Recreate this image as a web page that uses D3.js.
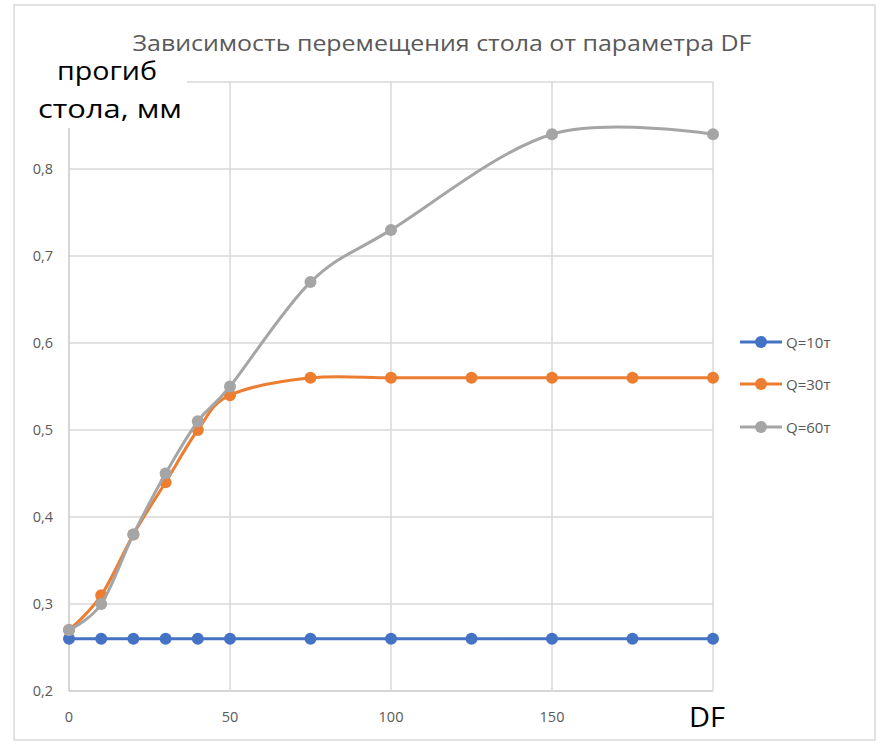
<!DOCTYPE html>
<html><head><meta charset="utf-8">
<script src="https://cdn.jsdelivr.net/npm/d3@7"></script>
<style>body{margin:0;background:#fff;} svg{display:block;}</style>
</head><body>
<svg id="c" width="882" height="750"></svg>
<script>
const dfQ10 = [0,10,20,30,40,50,75,100,125,150,175,200];
const valQ10 = [0.26,0.26,0.26,0.26,0.26,0.26,0.26,0.26,0.26,0.26,0.26,0.26];
const dfQ30 = [0,10,20,30,40,50,75,100,125,150,175,200];
const valQ30 = [0.27,0.31,0.38,0.44,0.50,0.54,0.56,0.56,0.56,0.56,0.56,0.56];
const dfQ60 = [0,10,20,30,40,50,75,100,150,200];
const valQ60 = [0.27,0.30,0.38,0.45,0.51,0.55,0.67,0.73,0.84,0.84];
const seriesNames = ["Q=10т","Q=30т","Q=60т"];
const seriesColors = ["#4472C4","#ED7D31","#A5A5A5"];
const xTicks = [0,50,100,150];
const xGrid = [0,50,100,150,200];
const yTicks = [0.2,0.3,0.4,0.5,0.6,0.7,0.8,0.9];
const titleText = "Зависимость перемещения стола от параметра DF";
const yLabel = ["прогиб","стола, мм"];
const xLabel = "DF";

const series = [
  {name:seriesNames[0], color:seriesColors[0], pts:dfQ10.map((d,i)=>[d,valQ10[i]])},
  {name:seriesNames[1], color:seriesColors[1], pts:dfQ30.map((d,i)=>[d,valQ30[i]])},
  {name:seriesNames[2], color:seriesColors[2], pts:dfQ60.map((d,i)=>[d,valQ60[i]])}
];

const svg = d3.select("#c");
const x = d3.scaleLinear().domain([0,200]).range([69,713]);
const y = d3.scaleLinear().domain([0.2,0.9]).range([691,82]);

svg.append("rect").attr("x",14).attr("y",5).attr("width",861).attr("height",735)
  .attr("fill","#fff").attr("stroke","#d9d9d9").attr("stroke-width",1.5);

// grid
const g = svg.append("g");
g.selectAll(".hg").data(yTicks).join("line")
  .attr("x1",x(0)).attr("x2",x(200)).attr("y1",d=>y(d)).attr("y2",d=>y(d))
  .attr("stroke",d=>d===0.2?"#c8c8c8":"#d9d9d9").attr("stroke-width",1.5);
g.selectAll(".vg").data(xGrid).join("line")
  .attr("x1",d=>x(d)).attr("x2",d=>x(d)).attr("y1",y(0.9)).attr("y2",y(0.2))
  .attr("stroke",d=>d===0?"#c8c8c8":"#d9d9d9").attr("stroke-width",1.5);

// y tick labels
svg.selectAll(".yt").data(yTicks.filter(d=>d<0.85)).join("text")
  .attr("x",53).attr("y",d=>y(d)+5).attr("text-anchor","end")
  .attr("font-family","Open Sans, sans-serif").attr("font-size",14.5).attr("fill","#595959")
  .text(d=>d3.format(".1f")(d).replace(".",","));
// x tick labels
svg.selectAll(".xt").data(xTicks).join("text")
  .attr("x",d=>x(d)).attr("y",722).attr("text-anchor","middle")
  .attr("font-family","Open Sans, sans-serif").attr("font-size",14.5).attr("fill","#595959")
  .text(d=>d);

// lines
const line = d3.line().x(d=>x(d[0])).y(d=>y(d[1])).curve(d3.curveCardinal.tension(0));
series.forEach(s=>{
  svg.append("path").datum(s.pts).attr("d",line).attr("fill","none")
    .attr("stroke",s.color).attr("stroke-width",3).attr("stroke-linecap","round");
  svg.append("g").selectAll("circle").data(s.pts).join("circle")
    .attr("cx",d=>x(d[0])).attr("cy",d=>y(d[1])).attr("r",6).attr("fill",s.color);
});

// title
svg.append("text").attr("x",442).attr("y",51).attr("text-anchor","middle")
  .attr("font-family","Open Sans, sans-serif").attr("font-size",22).attr("fill","#595959")
  .attr("textLength",619).attr("lengthAdjust","spacingAndGlyphs").text(titleText);

// y label box
svg.append("rect").attr("x",30).attr("y",56).attr("width",157).attr("height",72).attr("fill","#fff");
svg.append("text").attr("x",57).attr("y",80)
  .attr("font-family","Open Sans, sans-serif").attr("font-size",26).attr("fill","#000")
  .attr("textLength",100).attr("lengthAdjust","spacingAndGlyphs").text(yLabel[0]);
svg.append("text").attr("x",38).attr("y",118)
  .attr("font-family","Open Sans, sans-serif").attr("font-size",26).attr("fill","#000")
  .attr("textLength",144).attr("lengthAdjust","spacingAndGlyphs").text(yLabel[1]);

// x label
svg.append("text").attr("x",689).attr("y",727)
  .attr("font-family","Open Sans, sans-serif").attr("font-size",27).attr("fill","#000")
  .attr("textLength",36).attr("lengthAdjust","spacingAndGlyphs").text(xLabel);

// legend
const leg = svg.append("g");
series.forEach((s,i)=>{
  const ly = [342,384,427][i];
  leg.append("line").attr("x1",740).attr("x2",782).attr("y1",ly).attr("y2",ly)
    .attr("stroke",s.color).attr("stroke-width",3);
  leg.append("circle").attr("cx",761).attr("cy",ly).attr("r",6).attr("fill",s.color);
  leg.append("text").attr("x",786).attr("y",ly+5.5)
    .attr("font-family","Open Sans, sans-serif").attr("font-size",15).attr("fill","#595959")
    .text(s.name);
});
</script>
</body></html>
